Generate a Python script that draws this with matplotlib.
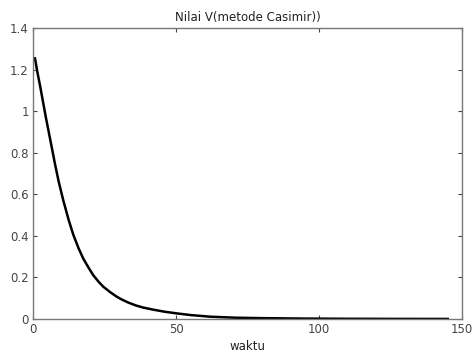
import matplotlib
matplotlib.use("Agg")
import matplotlib.pyplot as plt
from matplotlib.ticker import FuncFormatter

# nilai V
waktu = [0.7, 1.5, 2.5, 3.5, 4.5, 5.5, 6.5, 7.7, 9.0, 10.6, 12.5, 14.1, 16.0,
         17.6, 19.5, 21.1, 23.0, 24.6, 26.9, 29.3, 31.0, 33.3, 36.0, 38.5,
         42.0, 46.0, 50.2, 55.0, 62.0, 71.0, 80.0, 95.0, 110.0, 125.0, 145.0]
V = [1.254, 1.19, 1.12, 1.045, 0.97, 0.90, 0.83, 0.745, 0.66, 0.57, 0.475,
     0.405, 0.338, 0.29, 0.245, 0.21, 0.178, 0.155, 0.13, 0.107, 0.094, 0.079,
     0.065, 0.055, 0.045, 0.035, 0.027, 0.019, 0.011, 0.006, 0.004, 0.002,
     0.001, 0.0005, 0.0002]

plt.rcParams['font.family'] = ['DejaVu Sans']

fig = plt.figure(figsize=(4.72, 3.52), dpi=100)
ax = fig.add_axes([0.0699, 0.0938, 0.909, 0.8267])

ax.plot(waktu, V, color='black', linewidth=1.8)

ax.set_xlim(0, 150)
ax.set_ylim(0, 1.4)
ax.set_xticks([0, 50, 100, 150])
ax.set_yticks([0, 0.2, 0.4, 0.6, 0.8, 1.0, 1.2, 1.4])
ax.yaxis.set_major_formatter(FuncFormatter(lambda v, p: f"{v:g}"))
ax.tick_params(direction='in', length=3, labelsize=8.5, colors='#444444',
               top=True, right=True, pad=3)
for s in ax.spines.values():
    s.set_color('#777777')
    s.set_linewidth(1.0)

ax.set_title('Nilai V(metode Casimir))', fontsize=8.5, color='#222222', pad=5)
ax.set_xlabel('waktu', fontsize=8.5, color='#222222', labelpad=2.5)

fig.savefig('out.png', dpi=100)
